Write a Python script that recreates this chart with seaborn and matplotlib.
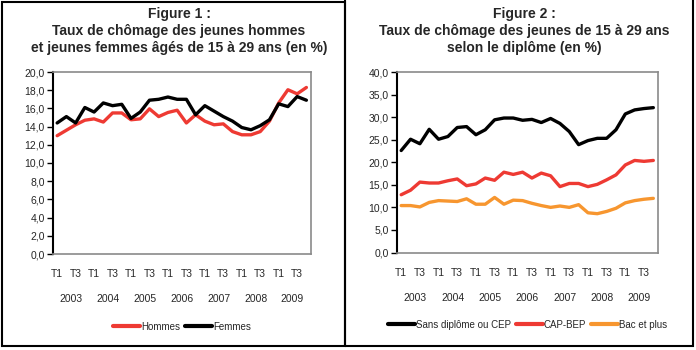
import numpy as np
import pandas as pd
import seaborn as sns
import matplotlib.pyplot as plt
from matplotlib.patches import Rectangle
from matplotlib.ticker import FuncFormatter

# Trimestres 2003 T1 -> 2009 T4
annees = ['2003', '2004', '2005', '2006', '2007', '2008', '2009']
trim_labels = ['T1', 'T3'] * 7

# Figure 1
hommes = [13.0, 13.6, 14.2, 14.7, 14.85, 14.5, 15.5, 15.5, 14.75, 14.85,
          15.95, 15.1, 15.55, 15.8, 14.4, 15.3, 14.6, 14.2, 14.3, 13.45,
          13.1, 13.1, 13.45, 14.6, 16.6, 18.05, 17.6, 18.3]
femmes = [14.4, 15.1, 14.4, 16.1, 15.6, 16.6, 16.3, 16.45, 14.9, 15.6,
          16.9, 17.0, 17.25, 17.0, 17.0, 15.3, 16.3, 15.7, 15.1, 14.6,
          13.9, 13.65, 14.1, 14.75, 16.5, 16.2, 17.3, 16.9]

# Figure 2
sans_diplome = [22.6, 25.1, 24.1, 27.3, 25.1, 25.7, 27.7, 27.9, 26.1, 27.2,
                29.4, 29.8, 29.8, 29.3, 29.5, 28.8, 29.7, 28.6, 26.8, 23.9,
                24.8, 25.3, 25.3, 27.2, 30.7, 31.6, 31.9, 32.1]
cap_bep = [12.8, 13.8, 15.6, 15.4, 15.4, 15.9, 16.3, 14.8, 15.2, 16.5,
           16.0, 17.8, 17.3, 17.8, 16.5, 17.6, 17.0, 14.6, 15.3, 15.3,
           14.6, 15.1, 16.1, 17.2, 19.4, 20.4, 20.2, 20.4]
bac_plus = [10.4, 10.4, 10.1, 11.1, 11.5, 11.4, 11.3, 11.9, 10.7, 10.7,
            12.2, 10.7, 11.6, 11.5, 10.9, 10.4, 10.0, 10.3, 10.0, 10.6,
            8.8, 8.6, 9.1, 9.8, 11.0, 11.5, 11.8, 12.0]

x = np.arange(len(hommes))

ROUGE = '#EE3A33'
NOIR = '#000000'
ORANGE = '#F7962F'

sns.set_style('white')
plt.rcParams['font.family'] = ['Liberation Sans', 'DejaVu Sans']

fig = plt.figure(figsize=(6.96, 3.5), dpi=100)

# cadres des deux figures
fig.patches.append(Rectangle((2 / 696, 4 / 350), 343 / 696, 344 / 350, transform=fig.transFigure,
                             fill=False, ec='black', lw=1.5))
fig.patches.append(Rectangle((345 / 696, 4 / 350), 348 / 696, 350 / 350, transform=fig.transFigure,
                             fill=False, ec='black', lw=1.5))

ax1 = fig.add_axes([53 / 696, 1 - 254 / 350, 258 / 696, 182 / 350])
ax2 = fig.add_axes([397 / 696, 1 - 252.5 / 350, 261 / 696, 180.5 / 350])

df1 = pd.DataFrame({'x': np.concatenate([x, x]),
                    'val': hommes + femmes,
                    'serie': ['Hommes'] * len(x) + ['Femmes'] * len(x)})
df2 = pd.DataFrame({'x': np.concatenate([x, x, x]),
                    'val': sans_diplome + cap_bep + bac_plus,
                    'serie': ['Sans diplôme ou CEP'] * len(x) + ['CAP-BEP'] * len(x) + ['Bac et plus'] * len(x)})

sns.lineplot(data=df1, x='x', y='val', hue='serie', ax=ax1, lw=2.4,
             palette={'Hommes': ROUGE, 'Femmes': NOIR})
sns.lineplot(data=df2, x='x', y='val', hue='serie', ax=ax2, lw=2.4,
             palette={'Sans diplôme ou CEP': NOIR, 'CAP-BEP': ROUGE, 'Bac et plus': ORANGE})


def habiller(ax, ymax, ystep):
    ax.set_xlim(-0.45, 27.5)
    ax.set_ylim(0, ymax)
    ax.set_yticks(np.arange(0, ymax + 0.01, ystep))
    ax.yaxis.set_major_formatter(FuncFormatter(lambda v, p: f'{v:.1f}'.replace('.', ',')))
    ax.set_xticks(np.arange(0, 28, 2))
    ax.set_xticklabels(trim_labels)
    ax.set_xticks(np.arange(1.5, 28, 4), minor=True)
    ax.set_xticklabels(annees, minor=True)
    ax.tick_params(axis='x', which='major', length=0, pad=11, labelsize=7.5)
    ax.tick_params(axis='x', which='minor', length=0, pad=29, labelsize=7.5)
    ax.tick_params(axis='y', length=4, width=1, color='black', labelsize=7.5, pad=2, left=True)
    ax.set_xlabel('')
    ax.set_ylabel('')
    ax.spines['left'].set_color('black')
    ax.spines['left'].set_linewidth(1.5)
    for s in ['bottom', 'top', 'right']:
        ax.spines[s].set_color('#8a8a8a')
        ax.spines[s].set_linewidth(1.2)
    h, l = ax.get_legend_handles_labels()
    for hh in h:
        hh.set_linewidth(3)
    ax.legend(h, l, loc='center', bbox_to_anchor=(0.5, -0.40), ncol=len(l), frameon=False,
              fontsize=7, handlelength=2.8, handletextpad=0.1, columnspacing=0.5)


habiller(ax1, 20, 2)
habiller(ax2, 40, 5)

fig.text(179 / 696, 1 - 31 / 350,
         'Figure 1 :\nTaux de chômage des jeunes hommes\net jeunes femmes âgés de 15 à 29 ans (en %)',
         ha='center', va='center', fontsize=10, fontweight='bold', linespacing=1.3)
fig.text(524 / 696, 1 - 31 / 350,
         'Figure 2 :\nTaux de chômage des jeunes de 15 à 29 ans\nselon le diplôme (en %)',
         ha='center', va='center', fontsize=10, fontweight='bold', linespacing=1.3)

fig.savefig('out.png', dpi=100)
